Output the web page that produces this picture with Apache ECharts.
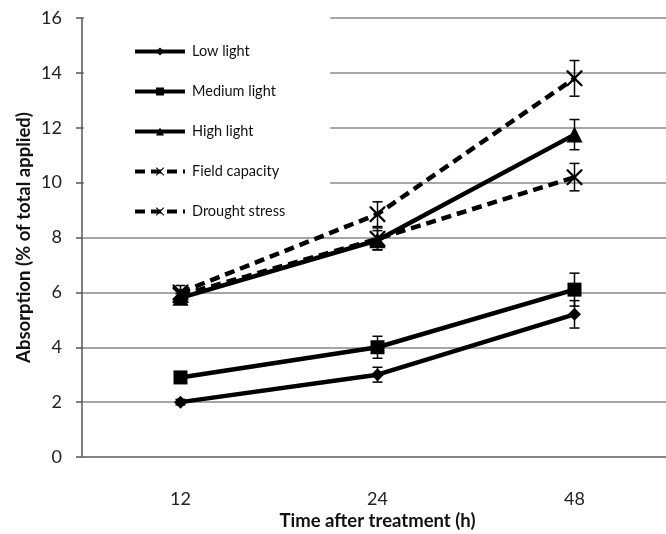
<!DOCTYPE html>
<html><head><meta charset="utf-8">
<script src="https://cdn.jsdelivr.net/npm/echarts@6/dist/echarts.min.js"></script>
<style>html,body{margin:0;padding:0;background:#fff}#c{width:666px;height:534px}</style>
</head><body><div id="c"></div>
<script>
const categories = ['12', '24', '48'];
const lowLight = [2.0, 3.0, 5.2];
const lowLightErr = [0.1, 0.27, 0.5];
const mediumLight = [2.9, 4.0, 6.1];
const mediumLightErr = [0.15, 0.4, 0.6];
const highLight = [5.8, 7.9, 11.75];
const highLightErr = [0.15, 0.35, 0.55];
const fieldCapacity = [6.0, 8.85, 13.8];
const fieldCapacityErr = [0.25, 0.45, 0.65];
const droughtStress = [5.9, 7.95, 10.2];
const droughtStressErr = [0.2, 0.4, 0.5];
const yTicks = [0, 2, 4, 6, 8, 10, 12, 14, 16];

const X_PATH = 'path://M0,0 L2,0 L10,8 L18,0 L20,0 L20,2 L12,10 L20,18 L20,20 L18,20 L10,12 L2,20 L0,20 L0,18 L8,10 L0,2 Z';

function lineSeries(name, data, symbol, size, dashed) {
  return {
    name, type: 'line', data, symbol, symbolSize: size, z: 3,
    lineStyle: { color: '#000', width: 4.5, type: dashed ? [10, 6] : 'solid' },
    itemStyle: { color: '#000', borderWidth: 0 },
    emphasis: { disabled: true }
  };
}
function errSeries(vals, errs) {
  return {
    type: 'custom', z: 4, silent: true,
    data: vals.map((v, i) => [i, v, errs[i]]),
    renderItem: function (params, api) {
      const x = api.value(0), y = api.value(1), e = api.value(2);
      const top = api.coord([x, y + e]);
      const bot = api.coord([x, y - e]);
      const w = 5;
      const st = { stroke: '#000', lineWidth: 1.5 };
      return { type: 'group', children: [
        { type: 'line', shape: { x1: top[0], y1: top[1], x2: bot[0], y2: bot[1] }, style: st },
        { type: 'line', shape: { x1: top[0] - w, y1: top[1], x2: top[0] + w, y2: top[1] }, style: st },
        { type: 'line', shape: { x1: bot[0] - w, y1: bot[1], x2: bot[0] + w, y2: bot[1] }, style: st }
      ]};
    }
  };
}

const chart = echarts.init(document.getElementById('c'), null, { renderer: 'canvas' });
chart.setOption({
  animation: false,
  backgroundColor: '#fff',
  textStyle: { fontFamily: 'Lato' },
  grid: { left: 82, right: -7, top: 18, bottom: 77, outerBoundsMode: 'none', containLabel: false },
  legend: {
    orient: 'vertical', left: 84, top: 14,
    padding: [30, 45, 6, 49],
    backgroundColor: '#fff',
    itemWidth: 50, itemHeight: 10, itemGap: 25,
    lineStyle: { width: 4 },
    textStyle: { fontFamily: 'Lato', fontSize: 14.5, color: '#111', padding: [0, 0, 0, 2] },
    data: ['Low light', 'Medium light', 'High light', 'Field capacity', 'Drought stress']
  },
  xAxis: {
    type: 'category', data: categories, boundaryGap: true,
    name: 'Time after treatment (h)', nameLocation: 'middle', nameGap: 55, nameMoveOverlap: false,
    nameTextStyle: { fontFamily: 'Lato', fontWeight: 'bold', fontSize: 18.5, color: '#111' },
    axisLine: { lineStyle: { color: '#777', width: 1.5 } },
    axisTick: { show: false },
    axisLabel: { fontFamily: 'Lato', fontSize: 18, color: '#222', margin: 33 }
  },
  yAxis: {
    type: 'value', min: yTicks[0], max: yTicks[yTicks.length - 1], interval: 2,
    name: 'Absorption (% of total applied)', nameLocation: 'middle', nameGap: 48, nameMoveOverlap: false,
    nameTextStyle: { fontFamily: 'Lato', fontWeight: 'bold', fontSize: 18.5, color: '#111' },
    axisLine: { show: true, lineStyle: { color: '#555', width: 1.5 } },
    axisTick: { show: true, length: 6, lineStyle: { color: '#555', width: 1.5 } },
    axisLabel: { fontFamily: 'Lato', fontSize: 18, color: '#222', margin: 20 },
    splitLine: { show: true, lineStyle: { color: '#888', width: 1.5 } }
  },
  series: [
    lineSeries('Low light', lowLight, 'diamond', 13, false),
    lineSeries('Medium light', mediumLight, 'rect', 14, false),
    lineSeries('High light', highLight, 'triangle', 16, false),
    lineSeries('Field capacity', fieldCapacity, X_PATH, 16, true),
    lineSeries('Drought stress', droughtStress, X_PATH, 16, true),
    errSeries(lowLight, lowLightErr),
    errSeries(mediumLight, mediumLightErr),
    errSeries(highLight, highLightErr),
    errSeries(fieldCapacity, fieldCapacityErr),
    errSeries(droughtStress, droughtStressErr)
  ]
});
</script></body></html>
